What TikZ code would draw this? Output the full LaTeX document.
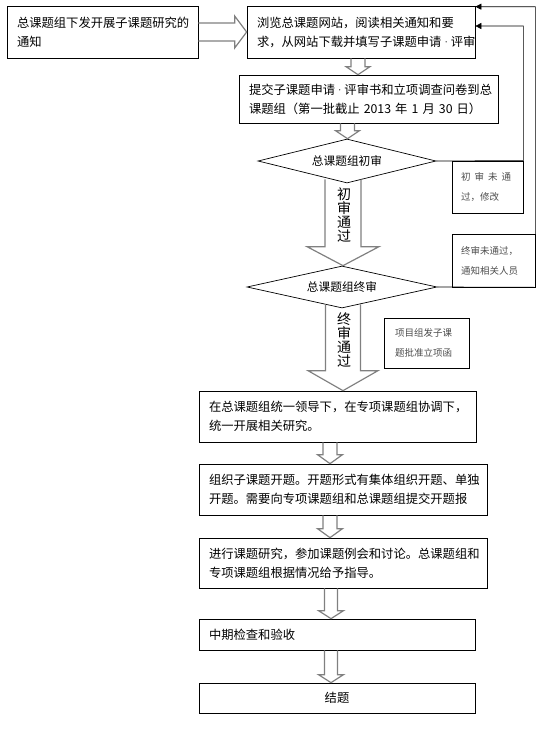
\documentclass[tikz,border=0pt]{standalone}
\usepackage{fontspec}
\newfontfamily\cjk{Noto Sans CJK SC}
\usetikzlibrary{arrows.meta,calc,shapes.geometric}
\newcommand{\mdot}{{\rmfamily\textperiodcentered}}
% hollow block arrows: #1 start, #2 tip, #3 shaft half width, #4 head half width, #5 head length
\newcommand{\downblock}[5]{%
  \draw[hollow] let \p1=(#1), \p2=(#2) in
    (\x1-#3,\y1) -- (\x1-#3,\y2+#5) -- (\x1-#4,\y2+#5) -- (\x1,\y2)
    -- (\x1+#4,\y2+#5) -- (\x1+#3,\y2+#5) -- (\x1+#3,\y1);}
\newcommand{\rightblock}[5]{%
  \draw[hollow] let \p1=(#1), \p2=(#2) in
    (\x1,\y1+#3) -- (\x2-#5,\y1+#3) -- (\x2-#5,\y1+#4) -- (\x2,\y1)
    -- (\x2-#5,\y1-#4) -- (\x2-#5,\y1-#3) -- (\x1,\y1-#3);}

\begin{document}
\begin{tikzpicture}[x=1pt, y=-1pt,
  box/.style={draw, line width=0.7pt, align=left, inner xsep=10pt, inner ysep=0pt,
              font=\cjk\fontsize{12.3}{19}\selectfont},
  dia/.style={diamond, draw, line width=0.7pt, aspect=4, inner sep=0pt,
              font=\cjk\fontsize{11.7}{14}\selectfont},
  note/.style={draw, line width=0.7pt, align=left, inner xsep=9pt, inner ysep=0pt,
               text=black!70, font=\cjk\fontsize{9.5}{20}\selectfont},
  vlabel/.style={align=center, inner sep=0pt, font=\cjk\fontsize{14}{14}\selectfont},
  hollow/.style={draw=black!50, line width=1.2pt},
  fb/.style={-{Triangle[length=6pt,width=6pt]}, line width=0.7pt}]
\useasboundingbox (0,0) rectangle (545,729);

\node[box, text width=171pt, minimum height=52pt] (notice) at (102.5,32) {总课题组下发开展子课题研究的\\通知};
\node[box, text width=208pt, minimum height=52pt] (browse) at (361,32) {浏览总课题网站，阅读相关通知和要\\求，从网站下载并填写子课题申请\mdot 评审};
\node[box, text width=239pt, minimum height=48pt] (submit) at (368.5,99) {提交子课题申请\mdot 评审书和立项调查问卷到总\\课题组（第一批截止 2013 年 1 月 30 日）};
\node[dia, minimum width=178pt, minimum height=44pt] (first) at (347,161) {总课题组初审};
\node[dia, minimum width=190pt, minimum height=42pt] (final) at (342,287) {总课题组终审};
\node[note, text width=53pt, minimum height=52pt] (fail1) at (487.5,187) {初\hspace{4pt}审\hspace{4pt}未\hspace{4pt}通\\过，修改};
\node[note, text width=65pt, minimum height=53pt] (fail2) at (493.5,260.5) {终审未通过，\\通知相关人员};
\node[note, text width=63pt, inner xsep=11pt, minimum height=50pt] (letter) at (426.5,343) {项目组发子课\\题批准立项函};
\node[box, text width=257pt, minimum height=51pt] (lead) at (337.5,416.5) {在总课题组统一领导下，在专项课题组协调下，\\统一开展相关研究。};
\node[box, text width=268pt, minimum height=51pt] (open) at (343,489.5) {组织子课题开题。开题形式有集体组织开题、单独\\开题。需要向专项课题组和总课题组提交开题报};
\node[box, text width=268pt, minimum height=50pt] (study) at (343,563) {进行课题研究，参加课题例会和讨论。总课题组和\\专项课题组根据情况给予指导。};
\node[box, text width=256pt, minimum height=31pt] (check) at (337,634.5) {中期检查和验收};
\node[box, text width=256pt, minimum height=30pt, align=center] (close) at (337,698) {结题};

\rightblock{notice.east}{browse.west}{9pt}{16pt}{12pt}
\downblock{[xshift=-3pt]browse.south}{submit.north}{7pt}{12pt}{8pt}
\downblock{[xshift=-21pt]submit.south}{first.north}{7pt}{12pt}{8pt}
\downblock{[xshift=-4pt,yshift=4pt]first.south}{final.north}{18pt}{36pt}{19pt}
\downblock{[xshift=1pt,yshift=4pt]final.south}{lead.north}{17.5pt}{35pt}{20pt}
\downblock{[xshift=-7.5pt]lead.south}{open.north}{7pt}{12.5pt}{9pt}
\downblock{[xshift=-13pt]open.south}{study.north}{7pt}{12.5pt}{9pt}
\downblock{[xshift=-12pt]study.south}{check.north}{6.5pt}{12.5pt}{8pt}
\downblock{[xshift=-6pt]check.south}{close.north}{6.5pt}{12.5pt}{8pt}

\node[vlabel] (pass1) at (344,215) {初\\审\\通\\过};
\node[vlabel] (pass2) at (344,340) {终\\审\\通\\过};

\draw[fb] (first.east) -- (fail1.north east) |- ([yshift=6pt]browse.east);
\draw[fb] (final.east) -- (fail2.south east) |- ([yshift=-1pt]browse.north east);
\end{tikzpicture}
\end{document}
